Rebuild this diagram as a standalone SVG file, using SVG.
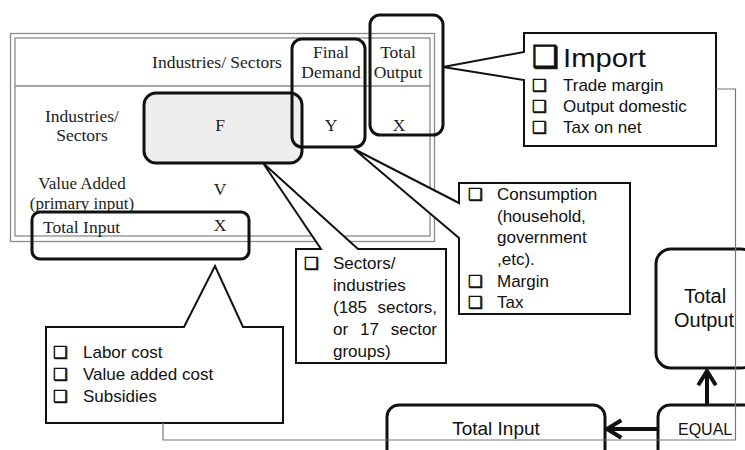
<svg xmlns="http://www.w3.org/2000/svg" width="745" height="450" viewBox="0 0 745 450">
<style>
.serif{font-family:"Liberation Serif","Times New Roman",serif;font-size:17.5px;fill:#222}
.sans{font-family:"Liberation Sans",Arial,sans-serif;font-size:17px;fill:#111}
.cb{font-family:"DejaVu Sans",sans-serif;font-size:16.5px;fill:#111;stroke:#111;stroke-width:0.6}
.rb{fill:none;stroke:#111;stroke-width:3}
.co{fill:#fff;stroke:#111;stroke-width:2}
.grid{fill:none;stroke:#8a8a8a;stroke-width:1.3}
.mid{text-anchor:middle}
</style>
<defs>
<marker id="chev" viewBox="0 0 10 10" refX="8.5" refY="5" markerUnits="userSpaceOnUse" markerWidth="22" markerHeight="22" orient="auto">
<path d="M2,1 L8.5,5 L2,9" fill="none" stroke="#111" stroke-width="1.8"/>
</marker>
</defs>
<rect width="745" height="450" fill="#fff"/>

<g id="table">
<rect class="grid" x="10.5" y="33.5" width="424" height="208"/>
<rect class="grid" x="15" y="38" width="415" height="198"/>
<line class="grid" x1="15" y1="86" x2="430" y2="86"/>
<text class="serif mid" x="217" y="68">Industries/ Sectors</text>
<text class="serif mid" x="331" y="58">Final</text>
<text class="serif mid" x="331" y="78">Demand</text>
<text class="serif mid" x="398" y="58">Total</text>
<text class="serif mid" x="398" y="78">Output</text>
<text class="serif mid" x="82" y="122">Industries/</text>
<text class="serif mid" x="82" y="141">Sectors</text>
<text class="serif mid" x="82" y="189" style="font-size:17px">Value Added</text>
<text class="serif mid" x="82" y="209" style="font-size:17px">(primary input)</text>
<text class="serif mid" x="220" y="195">V</text>
<text class="serif" x="43" y="233">Total Input</text>
<text class="serif mid" x="220" y="231">X</text>
</g>

<g id="box-F">
<rect x="144" y="93" width="158" height="70" rx="12" fill="#eeeeee" stroke="#111" stroke-width="3"/>
<text class="serif mid" x="220" y="131">F</text>
</g>
<g id="box-Y">
<rect class="rb" x="292" y="39" width="73" height="108" rx="10"/>
<text class="serif mid" x="331" y="131">Y</text>
</g>
<g id="box-X">
<rect class="rb" x="370" y="15" width="73" height="120" rx="10"/>
<text class="serif mid" x="399" y="131">X</text>
</g>
<g id="box-total-input-row">
<rect class="rb" x="32" y="212" width="217" height="47" rx="8"/>
</g>

<g id="callout-import">
<path class="co" d="M524,33 H716 V146 H524 V80 L443,67 L524,52 Z"/>
<text class="cb" x="532" y="67" style="font-size:30px;stroke-width:1">❑</text>
<text class="sans" x="563" y="67" style="font-size:26px" textLength="83" lengthAdjust="spacingAndGlyphs">Import</text>
<text class="cb" x="532" y="91">❑</text>
<text class="sans" x="563" y="91">Trade margin</text>
<text class="cb" x="532" y="112">❑</text>
<text class="sans" x="563" y="112">Output domestic</text>
<text class="cb" x="532" y="133">❑</text>
<text class="sans" x="563" y="133">Tax on net</text>
</g>

<g id="callout-final-demand">
<path class="co" d="M459,183 H630 V314 H459 V238 L354,149 L459,203 Z"/>
<text class="cb" x="468" y="200">❑</text>
<text class="sans" x="497" y="200">Consumption</text>
<text class="sans" x="497" y="222">(household,</text>
<text class="sans" x="497" y="243">government</text>
<text class="sans" x="497" y="265">,etc).</text>
<text class="cb" x="468" y="287">❑</text>
<text class="sans" x="497" y="287">Margin</text>
<text class="cb" x="468" y="308">❑</text>
<text class="sans" x="497" y="308">Tax</text>
</g>

<g id="callout-sectors">
<path class="co" d="M296,249 H321 L263,163 L358,249 H446 V363 H296 Z"/>
<text class="cb" x="304" y="269">❑</text>
<text class="sans" x="333" y="269">Sectors/</text>
<text class="sans" x="333" y="291">industries</text>
<text class="sans" x="333" y="313">(185</text>
<text class="sans" x="437" y="313" text-anchor="end">sectors,</text>
<text class="sans" x="333" y="335">or</text>
<text class="sans" x="360" y="335">17</text>
<text class="sans" x="437" y="335" text-anchor="end">sector</text>
<text class="sans" x="333" y="357">groups)</text>
</g>

<g id="callout-value-added">
<path class="co" d="M46,327 H184 L215,266 L243,327 H283 V423 H46 Z"/>
<text class="cb" x="53" y="358">❑</text>
<text class="sans" x="83" y="358">Labor cost</text>
<text class="cb" x="53" y="380">❑</text>
<text class="sans" x="83" y="380">Value added cost</text>
<text class="cb" x="53" y="402">❑</text>
<text class="sans" x="83" y="402">Subsidies</text>
</g>

<g id="node-total-output">
<rect class="rb" x="656" y="249" width="100" height="119" rx="15" fill="#fff"/>
<text class="sans mid" x="705" y="303" style="font-size:20px">Total</text>
<text class="sans mid" x="704" y="327" style="font-size:20px">Output</text>
</g>
<g id="node-equal">
<rect class="rb" x="658" y="405" width="100" height="60" rx="12"/>
<text class="sans" x="678" y="435" style="font-size:16px">EQUAL</text>
</g>
<g id="node-total-input">
<rect class="rb" x="387" y="405" width="218" height="60" rx="12"/>
<text class="sans mid" x="496" y="435" style="font-size:19px">Total Input</text>
</g>

<g id="connectors">
<polyline points="716,89 735.5,89 735.5,440 163,440 163,423" fill="none" stroke="#777" stroke-width="1.2"/>
<line x1="658" y1="429" x2="607" y2="429" stroke="#111" stroke-width="4" marker-end="url(#chev)"/>
<line x1="707" y1="405" x2="707" y2="371" stroke="#111" stroke-width="4" marker-end="url(#chev)"/>
</g>
</svg>
